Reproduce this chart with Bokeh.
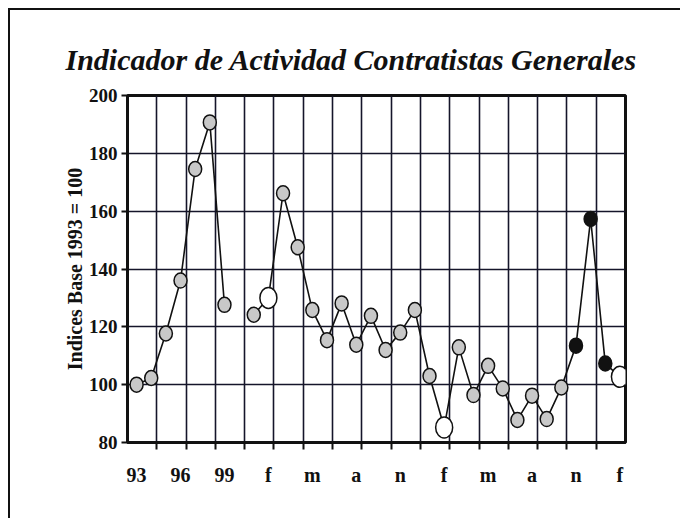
import numpy as np
from bokeh.plotting import figure
from bokeh.models import FixedTicker, Title, ColumnDataSource, Range1d
from bokeh.embed import file_html
from bokeh.resources import INLINE

# ---- data ----
years = ["93", "94", "95", "96", "97", "98", "99"]
months = ["e", "f", "m", "a", "m", "j", "j", "a", "s", "o", "n", "d"]
slot_labels = years + [""] + months + months + ["e", "f"]
values = [100, 102.3, 117.7, 136, 174.6, 190.7, 127.6,
          None,
          124.2, 130, 166.2, 147.5, 125.8, 115.4, 128.1, 113.8, 123.8, 112, 118, 125.8,
          103, 85.2, 112.9, 96.4, 106.5, 98.7, 87.8, 96.2, 88.1, 99, 113.5, 157.3,
          107.3, 102.7]
y_ticks = [80, 100, 120, 140, 160, 180, 200]

n = len(values)
x = np.arange(n)
y = np.array([np.nan if v is None else v for v in values], dtype=float)

# highlighted points: every February of the monthly part, and the latest quarter
first_month = len(years) + 1
feb_idx = [i for i in range(first_month, n) if slot_labels[i] == "f"]
dark_idx = list(range(n - 4, n - 1))
reg_idx = [i for i in range(n) if i not in feb_idx and i not in dark_idx and not np.isnan(y[i])]

X0 = -0.62
grid_x = [X0 + 2 * k for k in range(1, 17)]
label_slots = list(range(0, n, 3))

FONT = "Liberation Serif"

p = figure(frame_width=498, frame_height=347,
           min_border_left=117, min_border_right=55,
           min_border_top=85, min_border_bottom=76,
           x_range=Range1d(X0, X0 + n), y_range=Range1d(80, 200),
           output_backend="svg", toolbar_location=None,
           styles={"margin-left": "8px", "margin-top": "8px",
                   "border-top": "2px solid #111", "border-left": "2px solid #111"})

p.background_fill_color = "white"
p.border_fill_color = "white"
p.outline_line_color = "#111"
p.outline_line_width = 3

# grids
p.xgrid.ticker = FixedTicker(ticks=grid_x)
p.ygrid.ticker = FixedTicker(ticks=y_ticks)
for g in (p.xgrid, p.ygrid):
    g.grid_line_color = "#15152a"
    g.grid_line_width = 1.6
    g.grid_line_alpha = 1

# x axis
xa = p.xaxis[0]
xa.ticker = FixedTicker(ticks=label_slots, minor_ticks=grid_x)
xa.major_label_overrides = {i: slot_labels[i] for i in label_slots}
xa.major_tick_out = 0
xa.major_tick_in = 0
xa.minor_tick_out = 7
xa.minor_tick_in = 0
xa.minor_tick_line_width = 2
xa.minor_tick_line_color = "#111"
xa.axis_line_width = 3
xa.axis_line_color = "#111"
xa.major_label_standoff = 14
xa.major_label_text_font = FONT
xa.major_label_text_font_size = "20px"
xa.major_label_text_font_style = "bold"
xa.major_label_text_color = "#111"

# y axis
ya = p.yaxis[0]
ya.ticker = FixedTicker(ticks=y_ticks)
ya.major_tick_out = 6
ya.major_tick_in = 0
ya.major_tick_line_width = 2
ya.major_tick_line_color = "#111"
ya.minor_tick_out = 0
ya.minor_tick_in = 0
ya.axis_line_width = 3
ya.axis_line_color = "#111"
ya.major_label_standoff = 4
ya.major_label_text_font = FONT
ya.major_label_text_font_size = "19px"
ya.major_label_text_font_style = "bold"
ya.major_label_text_color = "#111"
ya.axis_label = "Indices Base 1993 = 100"
ya.axis_label_text_font = FONT
ya.axis_label_text_font_size = "20px"
ya.axis_label_text_font_style = "bold"
ya.axis_label_text_color = "#111"
ya.axis_label_standoff = 0

# title
t = Title(text="Indicador de Actividad Contratistas Generales", align="left",
          offset=-62, text_font=FONT, text_font_size="30px",
          text_font_style="bold italic", text_color="#111", standoff=40)
p.add_layout(t, "above")

# line
p.line(x, y, line_color="#111", line_width=1.6)

def src(idx):
    return ColumnDataSource(dict(x=x[idx], y=y[idx]))

p.ellipse(x="x", y="y", width=13, height=15, width_units="screen", height_units="screen",
          source=src(reg_idx), fill_color="#c8c8c8", line_color="#111", line_width=1.5)
p.ellipse(x="x", y="y", width=13, height=15, width_units="screen", height_units="screen",
          source=src(dark_idx), fill_color="#111", line_color="#111", line_width=1.5)
p.ellipse(x="x", y="y", width=17, height=21, width_units="screen", height_units="screen",
          source=src(feb_idx), fill_color="white", line_color="#111", line_width=1.5)

open("out.html", "w").write(file_html(p, INLINE))
